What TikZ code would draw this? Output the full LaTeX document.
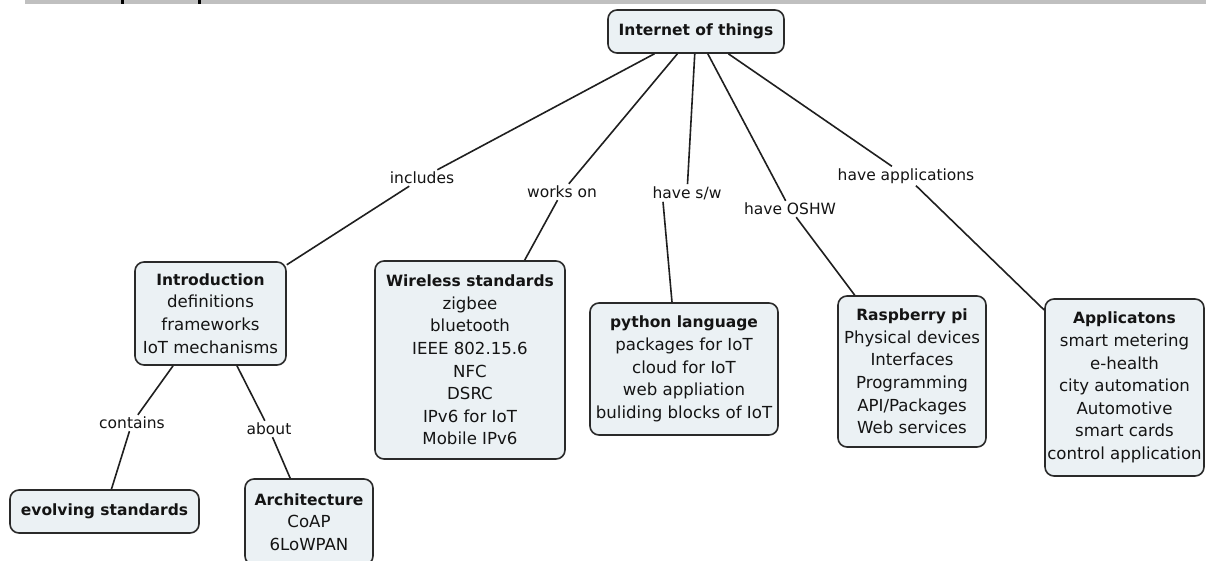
\documentclass[tikz,border=0pt]{standalone}
\usepackage{fontspec}
\setmainfont{DejaVu Sans}
\definecolor{boxfill}{HTML}{EBF1F4}
\definecolor{boxborder}{HTML}{2A2A2A}
\definecolor{barcol}{HTML}{C0C0C0}
\newcommand{\hd}[1]{{\fontsize{15.5}{22.6}\selectfont\bfseries #1}}
\tikzset{
  cbox/.style={draw=boxborder, line width=1.6pt, fill=boxfill, rounded corners=9pt,
    align=center, font=\fontsize{16.6}{22.6}\selectfont, inner sep=0pt, text=black!92},
  lbl/.style={font=\fontsize{15.5}{18}\selectfont, inner sep=2pt, text=black!92},
  conn/.style={draw=black!88, line width=1.6pt}
}
\begin{document}
\begin{tikzpicture}[x=1pt,y=-1pt]
\clip (0,0) rectangle (1206,561);
\fill[white] (0,0) rectangle (1206,561);
% top bar
\fill[barcol] (25,0) rectangle (1206,4);
\fill[black] (121,0) rectangle (123.5,4);
\fill[black] (198,0) rectangle (200.5,4);

% boxes
\node[cbox, minimum width=176, minimum height=43] (root) at (696,31.5) {\hd{Internet of things}};
\node[cbox, minimum width=151, minimum height=103] (intro) at (210.5,313.5)
  {\hd{Introduction}\\definitions\\frameworks\\IoT mechanisms};
\node[cbox, minimum width=190, minimum height=198] (wire) at (470,360)
  {\hd{Wireless standards}\\zigbee\\bluetooth\\IEEE 802.15.6\\NFC\\DSRC\\IPv6 for IoT\\Mobile IPv6};
\node[cbox, minimum width=188, minimum height=132] (py) at (684,369)
  {\hd{python language}\\packages for IoT\\cloud for IoT\\web appliation\\buliding blocks of IoT};
\node[cbox, minimum width=148, minimum height=151] (rpi) at (912,371.5)
  {\hd{Raspberry pi}\\Physical devices\\Interfaces\\Programming\\API/Packages\\Web services};
\node[cbox, minimum width=159, minimum height=177] (app) at (1124.5,387.5)
  {\hd{Applicatons}\\smart metering\\e-health\\city automation\\Automotive\\smart cards\\control application};
\node[cbox, minimum width=189, minimum height=43] (evo) at (104.5,511.5) {\hd{evolving standards}};
\node[cbox, minimum width=128, minimum height=86] (arch) at (309,522)
  {\hd{Architecture}\\CoAP\\6LoWPAN};

% labels
\node[lbl] (inc) at (422,178) {includes};
\node[lbl] (wo) at (562,192) {works on};
\node[lbl] (hsw) at (687,193) {have s/w};
\node[lbl] (osh) at (790,209) {have OSHW};
\node[lbl] (hap) at (906,176) {have applications};
\node[lbl] (con) at (132,423) {contains};
\node[lbl] (abt) at (269,429) {about};

% connectors
\draw[conn] (root) -- (inc);
\draw[conn] (inc) -- (intro);
\draw[conn] (root) -- (wo);
\draw[conn] (wo) -- (wire);
\draw[conn] (root) -- (hsw);
\draw[conn] ([xshift=-24]hsw.south) -- ([xshift=-12]py.north);
\draw[conn] (root) -- (osh);
\draw[conn] (osh) -- (rpi);
\draw[conn] (root) -- (hap);
\draw[conn] (hap) -- (app);
\draw[conn] (intro) -- (con);
\draw[conn] (con) -- (evo);
\draw[conn] (intro) -- (abt);
\draw[conn] (abt) -- (arch);
\end{tikzpicture}
\end{document}
